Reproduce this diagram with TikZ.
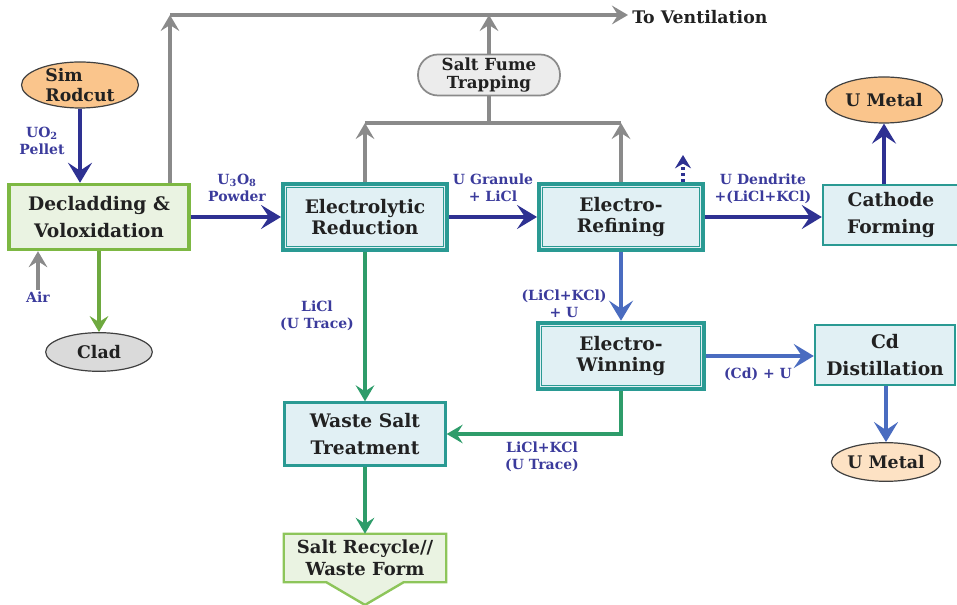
\documentclass[tikz,border=0pt]{standalone}
\usepackage{fontspec}
\setmainfont{DejaVu Serif}
\usetikzlibrary{arrows.meta,shapes.geometric,backgrounds}

\definecolor{tealbd}{HTML}{2A9A93}
\definecolor{boxfill}{HTML}{E1F0F4}
\definecolor{grnbd}{HTML}{7DB843}
\definecolor{grnfill}{HTML}{EAF3E2}
\definecolor{flowblue}{HTML}{2E3192}
\definecolor{midblue}{HTML}{4A6CC0}
\definecolor{lblblue}{HTML}{3B3B9C}
\definecolor{ventgray}{HTML}{8A8A8A}
\definecolor{saltgrn}{HTML}{2E9C6A}
\definecolor{cladgrn}{HTML}{6EA93F}
\definecolor{orangefill}{HTML}{FAC58C}
\definecolor{peachfill}{HTML}{FDE2C4}
\definecolor{cladfill}{HTML}{DADADA}
\definecolor{fumefill}{HTML}{ECECEC}
\definecolor{recybd}{HTML}{8DC55A}

\tikzset{
  box/.style={rectangle, draw=tealbd, line width=1.8pt, fill=boxfill, align=center,
    text=black!87, inner sep=2pt, font=\fontsize{14}{20}\selectfont\bfseries},
  % thick outer rim plus a thin inner rule
  cell/.style={box, line width=3pt, minimum width=123pt, minimum height=49.5pt,
    font=\fontsize{14}{16}\selectfont\bfseries,
    path picture={\draw[tealbd, line width=0.9pt]
      ([shift={(2.9pt,-2.9pt)}]path picture bounding box.north west) rectangle
      ([shift={(-2.9pt,2.9pt)}]path picture bounding box.south east);}},
  headbox/.style={box, draw=grnbd, fill=grnfill, line width=2.6pt,
    minimum width=135pt, minimum height=48.75pt},
  pill/.style={ellipse, draw=black!75, line width=0.9pt, inner sep=0pt,
    minimum width=87.75pt, minimum height=34.5pt, text=black!87,
    font=\fontsize{13}{15}\selectfont\bfseries},
  fume/.style={rectangle, rounded corners=15pt, draw=ventgray, line width=1.3pt, fill=fumefill,
    minimum width=106.5pt, minimum height=30.75pt, align=center, inner sep=1pt,
    text=black!87, font=\fontsize{12.5}{13.5}\selectfont\bfseries},
  recy/.style={align=center, inner sep=0pt, minimum width=121.5pt, minimum height=36pt,
    text=black!87, font=\fontsize{13.5}{16.5}\selectfont\bfseries},
  recyshape/.style={draw=recybd, line width=1.8pt, fill=grnfill},
  lbl/.style={text=lblblue, align=center, inner sep=0pt,
    font=\fontsize{10.5}{12.75}\selectfont\bfseries},
  flow/.style={draw=flowblue, line width=3.6pt, -{Stealth[length=15pt, width=18pt, inset=6pt]}},
  flowb/.style={flow, draw=midblue},
  dotarr/.style={draw=flowblue, line width=2.6pt, dash pattern=on 2.5pt off 2pt,
    -{Stealth[length=10pt, width=12pt, inset=3.5pt]}},
  vent/.style={draw=ventgray, line width=3pt},
  ventarr/.style={vent, -{Stealth[length=12pt, width=14pt, inset=4.5pt]}},
  salt/.style={draw=saltgrn, line width=3pt, -{Stealth[length=12pt, width=14pt, inset=4.5pt]}},
}

\begin{document}
\begin{tikzpicture}[x=0.75pt, y=-0.75pt]
    \useasboundingbox (0,0) rectangle (957,605);

    % head end
    \node[pill, fill=orangefill, align=left, inner ysep=-4pt] (sim) at (80,85) {Sim\\Rodcut};
    \node[headbox] (declad) at (99,217) {Decladding \&\\Voloxidation};
    \node[pill, fill=cladfill, minimum width=80pt, minimum height=29pt] (clad) at (99,352) {Clad};

    % pyro cells
    \node[cell] (elred) at (365,217) {Electrolytic\\Reduction};
    \node[cell] (eref) at (621,217) {Electro-\\Refining};
    \node[cell, minimum width=124.5pt, minimum height=50pt] (ewin) at (621,356) {Electro-\\Winning};
    \node[fume] (fume) at (489,75) {Salt Fume\\Trapping};

    % product side
    \node[box, minimum width=102pt, minimum height=45pt] (cathode) at (891,215) {Cathode\\Forming};
    \node[pill, fill=orangefill] (umetal) at (884,100) {U Metal};
    \node[box, minimum width=105pt, minimum height=45pt] (cddist) at (885,355) {Cd\\Distillation};
    \node[pill, fill=peachfill, minimum width=80pt, minimum height=29pt] (umetal2) at (886,462) {U Metal};

    % salt side
    \node[box, minimum width=120.75pt, minimum height=47.25pt] (waste) at (365,434) {Waste Salt\\Treatment};
    \node[recy] (recycle) at (365,558) {Salt Recycle//\\Waste Form};
    \begin{scope}[on background layer]
        \draw[recyshape] (recycle.north west) -- (recycle.north east) -- (recycle.south east)
            -- ([xshift=-32pt]recycle.south east) -- ([yshift=-17pt]recycle.south)
            -- ([xshift=32pt]recycle.south west) -- (recycle.south west) -- cycle;
    \end{scope}

    % off-gas lines
    \node[anchor=west, inner sep=3pt, text=black!87, font=\fontsize{13}{15}\selectfont\bfseries] (vent) at (628,17) {To Ventilation};
    \coordinate (vtop) at (170,15);
    \coordinate (fbus) at (489,123);
    \draw[ventarr] (vtop |- declad.north) -- (vtop);
    \draw[ventarr] (vtop) -- (vtop -| vent.west);
    \draw[ventarr] (fume.north) -- (fume.north |- vtop);
    \draw[vent] (fume.south) -- (fbus);
    \draw[vent] (elred |- fbus) -- (eref |- fbus);
    \draw[ventarr] (elred.north) -- (elred |- fbus);
    \draw[ventarr] (eref.north) -- (eref |- fbus);
    \node[lbl] (air) at (38,297) {Air};
    \draw[ventarr] ([yshift=1pt]air.north) -- (air.north |- declad.south);

    % main uranium flow
    \draw[flow] (sim.south) -- (sim.south |- declad.north);
    \draw[flow] (declad) -- (elred);
    \draw[flow] (elred) -- (eref);
    \draw[flow] (eref.east) -- (eref.east -| cathode.west);
    \draw[flow] (umetal |- cathode.north) -- (umetal);
    \coordinate (dtip) at (683,155);
    \draw[dotarr] (dtip |- eref.north) -- (dtip);
    \draw[flowb] (eref) -- (ewin);
    \draw[flowb] (ewin.east) -- (ewin.east -| cddist.west);
    \draw[flowb] (umetal2 |- cddist.south) -- (umetal2);

    % salt flow
    \draw[salt, draw=cladgrn] (declad) -- (clad);
    \draw[salt] (elred) -- (waste);
    \draw[salt] (ewin.south) |- (waste.east);
    \draw[salt] (waste) -- (recycle);

    % stream labels
    \node[lbl] at (42,141) {UO\textsubscript{2}\\Pellet};
    \node[lbl] at (237,188) {U\textsubscript{3}O\textsubscript{8}\\Powder};
    \node[lbl] at (493,188) {U Granule\\+ LiCl};
    \node[lbl] at (763,189) {U Dendrite\\+(LiCl+KCl)};
    \node[lbl] at (564,304) {(LiCl+KCl)\\+ U};
    \node[lbl] at (758,374) {(Cd) + U};
    \node[lbl] at (317,316) {LiCl\\(U Trace)};
    \node[lbl] at (542,457) {LiCl+KCl\\(U Trace)};
\end{tikzpicture}
\end{document}
